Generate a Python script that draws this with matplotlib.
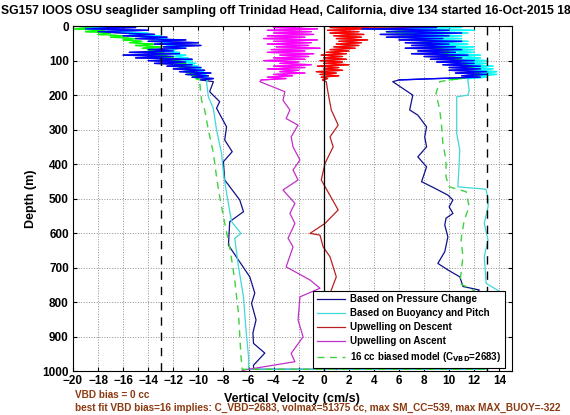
import matplotlib
matplotlib.use("Agg")
import matplotlib.pyplot as plt

plt.rcParams['font.family'] = ['Liberation Sans', 'DejaVu Sans']
plt.rcParams['font.weight'] = 'bold'

# shallow, noisy part of the profiles (depth in m, velocity in cm/s)
top_depth = [0, 4, 8, 12, 16, 20, 24, 28, 32, 36, 40, 44, 48, 52, 56, 60, 64, 68, 72, 76,
             80, 84, 88, 92, 96, 100, 104, 108, 112, 116, 120, 124, 128, 132, 136, 140, 144, 148, 152, 156]

press_dn_top = [-20, -15, -19, -14, -18, -16, -13.5, -16, -12.5, -15, -11, -14, -10, -13.5, -9.8, -12.8, -11, -14, -12, -15.5,
                -11.5, -16, -12, -15, -10.5, -14, -11, -13.5, -10.5, -12.5, -9.8, -12, -9.5, -11.5, -9.0, -11, -9.2, -10.5, -8.8, -9.8]
buoy_dn_top = [-20, -17, -19, -15, -17, -14, -15.5, -13, -14.5, -12.5, -13.5, -12, -13, -11.5, -12.5, -11, -12.5, -11.8, -13, -11.5,
               -12.5, -11, -12, -10.8, -11.5, -10.5, -11.2, -10.2, -11, -10, -10.5, -9.8, -10.2, -9.6, -10, -9.4, -9.8, -9.3, -9.5, -9.3]
model_dn_top = [-20, -18, -20, -17.5, -19, -17, -18, -16, -17, -15, -16, -14.5, -15.5, -13.5, -15, -13, -14.5, -13, -14, -12.8,
                -13.8, -12.5, -13.5, -12, -13, -11.5, -12.5, -11, -12, -10.8, -11.5, -10.5, -11, -10.2, -10.8, -10, -10.5, -9.9, -10.2, -9.9]
press_up_top = [4, 9, 3, 10, 5, 11, 4.5, 10, 5, 9.5, 6, 11, 6.5, 10, 7, 10.5, 6.5, 11, 7.5, 10.5,
                7, 11.5, 8, 11, 8.5, 12, 9, 12, 9.5, 12.5, 10, 12.5, 10, 13, 10.5, 13, 11, 12.5, 9, 6]
buoy_up_top = [2, 11, 5, 12, 6, 11.5, 7, 11, 7.5, 11, 8, 11.5, 8.5, 11.5, 9, 12, 9.5, 12, 10, 12,
               10, 12.5, 10.5, 12.5, 11, 13, 11, 13, 11.5, 13.5, 12, 13.5, 12, 13.8, 12.5, 13.8, 12.5, 13, 11.5, 11.5]
model_up_top = [3, 8, 4, 9, 5, 9, 6, 9, 6.5, 9.5, 7, 9.5, 7.5, 10, 8, 10, 8.5, 10.5, 9, 10.5,
                9.5, 11, 10, 11, 10.5, 11.5, 11, 12, 11, 12, 11.5, 12.5, 12, 12.5, 12, 12.5, 12, 11.5, 11, 10]
wdn_top = [10, 0.5, 3, 0.3, 2.8, 0.5, 3.2, 0.8, 3.0, 1.0, 3.5, 1.2, 3.0, 1.0, 2.8, 0.8, 2.5, 0.5, 2.0, 0.2,
           1.8, -0.2, 1.5, 0.0, 1.8, -0.3, 1.5, 0.0, 2.0, -0.5, 1.2, 0.0, 1.5, -0.6, 1.0, -0.3, 1.2, -0.2, 0.3, -0.1]
wup_top = [-1, -4, -0.5, -4.5, -1, -4, -0.8, -4.5, -1.5, -4.8, -0.5, -4, -1, -4.5, -1.2, -3.8, -0.3, -4.2, -1.5, -4.5,
           -0.8, -3.5, -1.2, -4.0, -1.5, -4.8, -2.0, -3.5, -1.0, -4.0, -1.5, -4.5, -2.0, -3.5, -1.5, -4.0, -2.5, -4.5, -3.0, -5.0]

# deeper, smoother part
press_dn_d = [161, 190, 219, 238, 292, 330, 364, 393, 446, 504, 538, 567, 635, 727, 774, 804, 852, 890, 920, 948, 983, 995]
press_dn_v = [-8.8, -9.1, -8.3, -8.55, -7.75, -7.9, -7.3, -8.0, -7.9, -6.7, -6.4, -7.5, -7.6, -5.9, -5.5, -5.76, -5.4, -5.65, -5.6, -4.7, -5.6, -5.6]
buoy_dn_d = [161, 205, 239, 301, 369, 427, 495, 567, 601, 615, 698, 785, 881, 958, 995]
buoy_dn_v = [-9.35, -9.2, -8.8, -8.55, -8.15, -8.0, -7.7, -7.35, -6.6, -7.1, -6.8, -6.4, -6.2, -6.0, -6.0]
model_dn_d = [161, 214, 243, 301, 369, 437, 495, 571, 640, 736, 833, 958, 995]
model_dn_v = [-9.9, -9.75, -9.5, -9.2, -8.8, -8.55, -8.3, -7.9, -7.5, -7.1, -6.8, -6.6, -6.5]

press_up_d = [995, 950, 900, 850, 800, 765, 755, 727, 707, 688, 654, 611, 577, 557, 543, 524, 504, 490, 470, 451,
              408, 379, 350, 321, 292, 258, 243, 200, 161]
press_up_v = [12.5, 12.0, 11.5, 12.0, 11.5, 12.4, 11.1, 10.85, 9.9, 9.1, 9.65, 9.9, 9.65, 9.75, 10.3, 10.0, 10.3, 9.9, 8.85, 7.8,
              8.2, 7.5, 8.2, 8.05, 8.2, 7.5, 6.85, 7.1, 5.5]
buoy_up_d = [995, 950, 900, 850, 800, 775, 746, 669, 620, 572, 524, 504, 473, 466, 359, 311, 253, 205, 200, 186, 161]
buoy_up_v = [13.0, 13.5, 14.5, 14.0, 13.5, 14.3, 12.95, 12.8, 13.1, 12.8, 13.1, 13.1, 12.95, 10.7, 10.85, 10.6, 10.6, 10.6, 11.5, 11.6, 11.5]
model_up_d = [995, 950, 900, 850, 800, 775, 746, 669, 620, 562, 524, 480, 466, 437, 388, 340, 292, 243, 195, 161]
model_up_v = [13.0, 12.8, 12.8, 12.5, 12.2, 12.4, 10.85, 11.1, 10.95, 11.2, 11.6, 11.35, 10.0, 9.75, 9.75, 9.5, 9.4, 9.25, 8.95, 9.25]

wdn_d = [161, 195, 243, 287, 321, 350, 398, 446, 533, 572, 601, 606, 640, 669, 727, 775, 800, 830, 860, 890, 920, 950, 980, 995]
wdn_v = [0.2, 0.35, 0.6, 1.15, 0.5, 0.75, 0.1, -0.2, 1.15, 0.1, -1.1, -0.3, -0.05, 0.5, 1.0, 0.5, 0.8, 0.4, 0.9, 0.5, 0.8, 0.3, 0.6, 1.0]
wup_d = [998, 973, 949, 901, 852, 785, 760, 736, 698, 640, 615, 572, 543, 514, 475, 446, 417, 388, 350, 321, 287, 268, 243,
         215, 190, 161]
wup_v = [-6.5, -2.3, -2.6, -1.65, -2.05, -1.9, -0.3, -1.1, -3.0, -2.45, -2.85, -2.3, -2.7, -2.3, -3.25, -2.05, -2.45, -1.9,
         -2.45, -2.6, -2.05, -3.0, -2.7, -3.25, -3.1, -5.1]

xticks = list(range(-20, 15, 2))
yticks = list(range(0, 1001, 100))

c_blue, c_blue_b = '#10108c', '#0000ff'
c_cyan, c_cyan_b = '#40d8d8', '#00ffff'
c_red, c_red_b = '#b82020', '#ff0000'
c_mag, c_mag_b = '#c030c8', '#ff00ff'
c_green, c_green_b = '#40d040', '#00ff00'

fig = plt.figure(figsize=(5.7, 4.15), dpi=100)
ax = fig.add_axes([0.128, 0.106, 0.77, 0.831])


def full(dn_top, dn_d, dn_v, up_d, up_v, up_top):
    d = top_depth + dn_d + up_d + top_depth[::-1]
    v = dn_top + dn_v + up_v + up_top[::-1]
    return v, d


v, d = full(press_dn_top, press_dn_d, press_dn_v, press_up_d, press_up_v, press_up_top)
ax.plot(v, d, color=c_blue, lw=0.9, label='Based on Pressure Change')
v, d = full(buoy_dn_top, buoy_dn_d, buoy_dn_v, buoy_up_d, buoy_up_v, buoy_up_top)
ax.plot(v, d, color=c_cyan, lw=0.9, label='Based on Buoyancy and Pitch')
ax.plot(wdn_top + wdn_v, top_depth + wdn_d, color=c_red, lw=0.9, label='Upwelling on Descent')
ax.plot(wup_v + wup_top[::-1], wup_d + top_depth[::-1], color=c_mag, lw=0.9, label='Upwelling on Ascent')
v, d = full(model_dn_top, model_dn_d, model_dn_v, model_up_d, model_up_v, model_up_top)
ax.plot(v, d, color=c_green, lw=1.0, ls=(0, (5, 4)), label='16 cc biased model (C$_{\\mathbf{VBD}}$=2683)')

# bright overlays for the noisy shallow section
ax.plot(model_dn_top, top_depth, color=c_green_b, lw=0.9)
ax.plot(model_up_top, top_depth, color=c_green_b, lw=0.9)
ax.plot(buoy_dn_top, top_depth, color=c_cyan_b, lw=0.9)
ax.plot(buoy_up_top, top_depth, color=c_cyan_b, lw=0.9)
ax.plot(press_dn_top, top_depth, color=c_blue_b, lw=1.0)
ax.plot(press_up_top, top_depth, color=c_blue_b, lw=1.0)
ax.plot(wdn_top, top_depth, color=c_red_b, lw=0.9)
ax.plot(wup_top, top_depth, color=c_mag_b, lw=0.9)

ax.axvline(0, color='k', lw=0.9)
ax.axvline(-13, color='k', lw=1.0, ls=(0, (6, 5)))
ax.axvline(13, color='k', lw=1.0, ls=(0, (6, 5)))

ax.set_xlim(-20, 15)
ax.set_ylim(1000, 0)
ax.set_xticks(xticks)
ax.set_yticks(yticks)
ax.tick_params(direction='in', top=True, right=True, labelsize=8.5, length=3, pad=3)
ax.grid(True, ls=':', color='#909090', lw=0.7)
ax.set_xlabel('Vertical Velocity (cm/s)', fontsize=9, fontweight='bold', labelpad=4)
ax.set_ylabel('Depth (m)', fontsize=9, fontweight='bold')
ax.set_title('SG157 IOOS OSU seaglider sampling off Trinidad Head, California, dive 134 started 16-Oct-2015 18:12',
             fontsize=8.7, fontweight='bold', pad=9, x=0.505)

leg = ax.legend(loc='lower right', bbox_to_anchor=(0.984, 0.009), fontsize=7.0, frameon=True, fancybox=False,
                edgecolor='k', borderaxespad=0, handlelength=2.9, labelspacing=0.4, borderpad=0.4,
                handletextpad=0.5, framealpha=1)
leg.get_frame().set_linewidth(0.8)

brown = '#8b3a10'
fig.text(0.132, 0.047, 'VBD bias = 0 cc', color=brown, fontsize=7.2, fontweight='bold', va='center')
fig.text(0.132, 0.016, 'best fit VBD bias=16 implies: C_VBD=2683, volmax=51375 cc, max SM_CC=539, max MAX_BUOY=-322',
         color=brown, fontsize=7.2, fontweight='bold', va='center')

fig.savefig('out.png', dpi=100)
